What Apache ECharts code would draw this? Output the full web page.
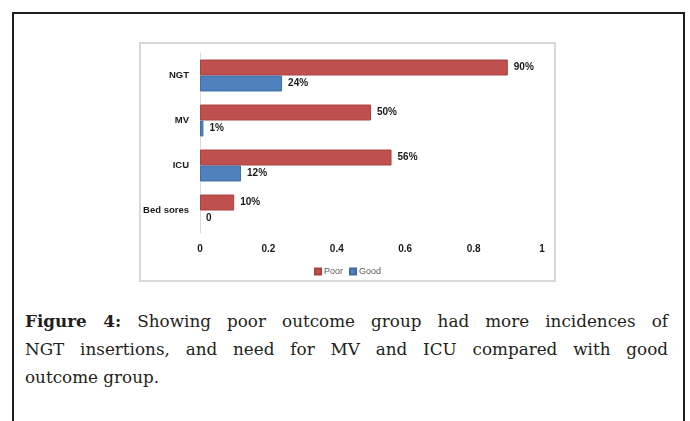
<!DOCTYPE html>
<html>
<head>
<meta charset="utf-8">
<script src="https://cdn.jsdelivr.net/npm/echarts@6/dist/echarts.min.js"></script>
<style>
  html, body { margin: 0; padding: 0; background: #fff; }
  body { width: 690px; height: 421px; position: relative; overflow: hidden; }
  #frame {
    position: absolute; left: 12px; top: 12px; width: 669px; height: 430px;
    border: 2px solid #1e1e1e; box-sizing: content-box;
  }
  #panel {
    position: absolute; left: 139px; top: 42px; width: 417px; height: 240px;
    border: 2px solid #d9d9d9; box-sizing: border-box;
  }
  #chart { position: absolute; left: 139px; top: 42px; width: 417px; height: 240px; }
  #caption {
    position: absolute; left: 25px; top: 307px; width: 643px;
    font-family: "DejaVu Serif", "Liberation Serif", serif; font-size: 16.8px;
    color: #231f20; line-height: 28px;
  }
  #caption .l { text-align: justify; text-align-last: justify; white-space: nowrap; }
  #caption .last { text-align: left; }
  #caption b { font-weight: bold; }
</style>
</head>
<body>
<div id="frame"></div>
<div id="panel"></div>
<div id="chart"></div>
<div id="caption">
  <div class="l"><b>Figure 4:</b> Showing poor outcome group had more incidences of</div>
  <div class="l">NGT insertions, and need for MV and ICU compared with good</div>
  <div class="last">outcome group.</div>
</div>
<script>
// Complications by outcome group (fraction of patients)
const categories = ['NGT', 'MV', 'ICU', 'Bed sores'];
const poorValues = [0.90, 0.50, 0.56, 0.10];
const goodValues = [0.24, 0.01, 0.12, 0];
const xTicks = [0, 0.2, 0.4, 0.6, 0.8, 1];

const chart = echarts.init(document.getElementById('chart'), null, { renderer: 'canvas' });

const labelFont = '"Liberation Sans", Arial, sans-serif';
const pct = p => (p.value === 0 ? '0' : Math.round(p.value * 100) + '%');

const barLabel = {
  show: true,
  position: 'right',
  distance: 6,
  formatter: pct,
  fontFamily: labelFont,
  fontWeight: 'bold',
  fontSize: 10,
  color: '#1a1a1a'
};

// zero-length bars get no outline so they leave no stray stroke on the axis
const withOutline = vals => vals.map(v => (v === 0 ? { value: v, itemStyle: { borderWidth: 0 } } : v));

chart.setOption({
  animation: false,
  grid: { left: 61, right: 14, top: 11, bottom: 49, containLabel: false },
  legend: {
    left: 'center',
    top: 220,
    itemWidth: 6,
    itemHeight: 6,
    itemGap: 6,
    icon: 'rect',
    textStyle: { fontFamily: labelFont, fontSize: 9, color: '#595959', padding: [0, 0, 0, -2] },
    data: ['Poor', 'Good']
  },
  xAxis: {
    type: 'value',
    min: 0,
    max: 1,
    interval: 0.2,
    axisLine: { show: false },
    axisTick: { show: false },
    splitLine: { show: false },
    axisLabel: {
      margin: 11,
      fontFamily: labelFont,
      fontWeight: 'bold',
      fontSize: 10,
      color: '#1a1a1a',
      formatter: v => {
        const t = xTicks.find(x => Math.abs(x - v) < 1e-9);
        return t === undefined ? '' : String(t);
      }
    }
  },
  yAxis: {
    type: 'category',
    inverse: true,
    data: categories,
    axisLine: { show: true, lineStyle: { color: '#d9d9d9', width: 1 } },
    axisTick: { show: false },
    axisLabel: {
      margin: 11,
      fontFamily: labelFont,
      fontWeight: 'bold',
      fontSize: 9.5,
      color: '#1a1a1a'
    }
  },
  series: [
    {
      name: 'Poor',
      type: 'bar',
      data: withOutline(poorValues),
      barGap: '0%',
      barCategoryGap: '29%',
      itemStyle: { color: '#c0504d', borderColor: '#a84340', borderWidth: 1 },
      label: barLabel
    },
    {
      name: 'Good',
      type: 'bar',
      data: withOutline(goodValues),
      barGap: '0%',
      barCategoryGap: '29%',
      itemStyle: { color: '#4f81bd', borderColor: '#3f6ea6', borderWidth: 1 },
      label: barLabel
    }
  ]
});
</script>
</body>
</html>
